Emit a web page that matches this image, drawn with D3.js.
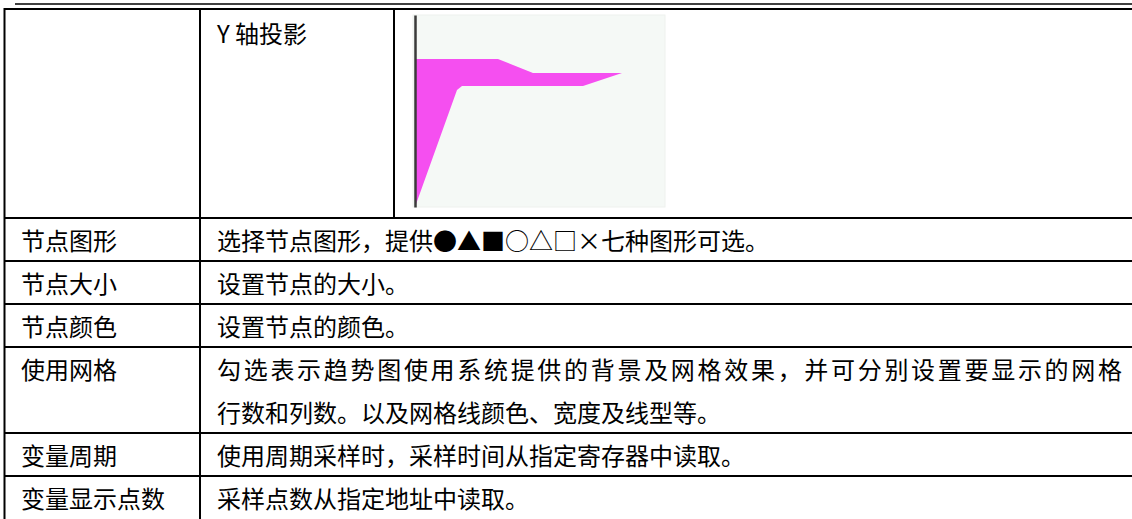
<!DOCTYPE html>
<html>
<head>
<meta charset="utf-8">
<script src="https://cdn.jsdelivr.net/npm/d3@7/dist/d3.min.js"></script>
<style>
  html, body { margin: 0; padding: 0; background: #fff; }
  svg { display: block; }
  text { font-family: "Noto Sans CJK SC", "Noto Sans", sans-serif; font-size: 24px; fill: #000; }
</style>
</head>
<body>
<svg id="chart" width="1132" height="519"></svg>
<script>
// ---------- data ----------
const rowLabels = ["", "节点图形", "节点大小", "节点颜色", "使用网格", "变量周期", "变量显示点数"];
const rowDescriptions = [
  ["Y 轴投影"],
  ["选择节点图形，提供●▲■○△□×七种图形可选。"],
  ["设置节点的大小。"],
  ["设置节点的颜色。"],
  ["勾选表示趋势图使用系统提供的背景及网格效果，并可分别设置要显示的网格", "行数和列数。以及网格线颜色、宽度及线型等。"],
  ["使用周期采样时，采样时间从指定寄存器中读取。"],
  ["采样点数从指定地址中读取。"]
];
// Y-axis projection preview (value along x, sample position along y)
const projValues    = [0, 16.8, 18.8, 67.2, 82.8, 47.2, 33.2, 0];
const projPositions = [0, 60.9, 63.0, 63.0, 69.8, 69.8, 77.1, 77.1];

// ---------- layout ----------
const svg = d3.select("#chart");
const tableTop = 9;
const rowHeights = [209, 43, 43, 43, 86, 43, 44];
const colX = [4.5, 200, 394];
const lineH = 43;

const rowTops = [];
let acc = tableTop;
rowHeights.forEach(h => { rowTops.push(acc); acc += h; });
const tableBottom = acc;

// top rule
svg.append("line").attr("x1", 15).attr("x2", 1132).attr("y1", 4).attr("y2", 4)
  .attr("stroke", "#000").attr("stroke-width", 1.5);

// horizontal table lines
const hLines = [tableTop, ...rowTops.slice(1), tableBottom];
svg.selectAll("line.h").data(hLines).enter().append("line")
  .attr("class", "h")
  .attr("x1", 4).attr("x2", 1132)
  .attr("y1", d => d).attr("y2", d => d)
  .attr("stroke", "#000").attr("stroke-width", 2);

// vertical lines
svg.append("line").attr("x1", colX[0]).attr("x2", colX[0]).attr("y1", tableTop - 1).attr("y2", tableBottom)
  .attr("stroke", "#000").attr("stroke-width", 2);
svg.append("line").attr("x1", colX[1]).attr("x2", colX[1]).attr("y1", tableTop - 1).attr("y2", tableBottom)
  .attr("stroke", "#000").attr("stroke-width", 2);
svg.append("line").attr("x1", colX[2]).attr("x2", colX[2]).attr("y1", tableTop - 1).attr("y2", rowTops[1])
  .attr("stroke", "#000").attr("stroke-width", 2);

// labels
rowLabels.forEach((lab, i) => {
  if (!lab) return;
  svg.append("text").attr("x", 21).attr("y", rowTops[i] + 21.5)
    .attr("dominant-baseline", "central").text(lab);
});

// descriptions
rowDescriptions.forEach((lines, i) => {
  lines.forEach((t, j) => {
    const y = i === 0 ? 32 : rowTops[i] + 21.5 + j * lineH;
    const el = svg.append("text").attr("x", 217).attr("y", y)
      .attr("dominant-baseline", "central").text(t);
    if (lines.length > 1 && j < lines.length - 1) {
      el.attr("textLength", 1122 - 217).attr("lengthAdjust", "spacing");
    }
  });
});

// ---------- projection chart ----------
const cx0 = 415, cx1 = 665, cy0 = 15, cy1 = 207;
svg.append("rect").attr("x", 413).attr("y", cy0).attr("width", cx1 - 413).attr("height", cy1 - cy0)
  .attr("fill", "#f5f9f6").attr("stroke", "#eef1ee").attr("stroke-width", 1);

const xS = d3.scaleLinear().domain([0, 100]).range([cx0, cx1]);
const yS = d3.scaleLinear().domain([0, 100]).range([cy1, cy0]);

const pts = projValues.map((v, i) => [v, projPositions[i]]);
const lineGen = d3.line().x(d => xS(d[0])).y(d => yS(d[1]));
svg.append("path").attr("d", lineGen(pts) + "Z")
  .attr("fill", "#f54ff0").attr("stroke", "none");

// y axis
svg.append("g").attr("transform", `translate(${cx0},0)`)
  .call(d3.axisLeft(yS).ticks(0).tickSize(0).tickFormat(""))
  .call(g => g.select(".domain").attr("stroke", "#3a3a3a").attr("stroke-width", 2.5));
</script>
</body>
</html>
